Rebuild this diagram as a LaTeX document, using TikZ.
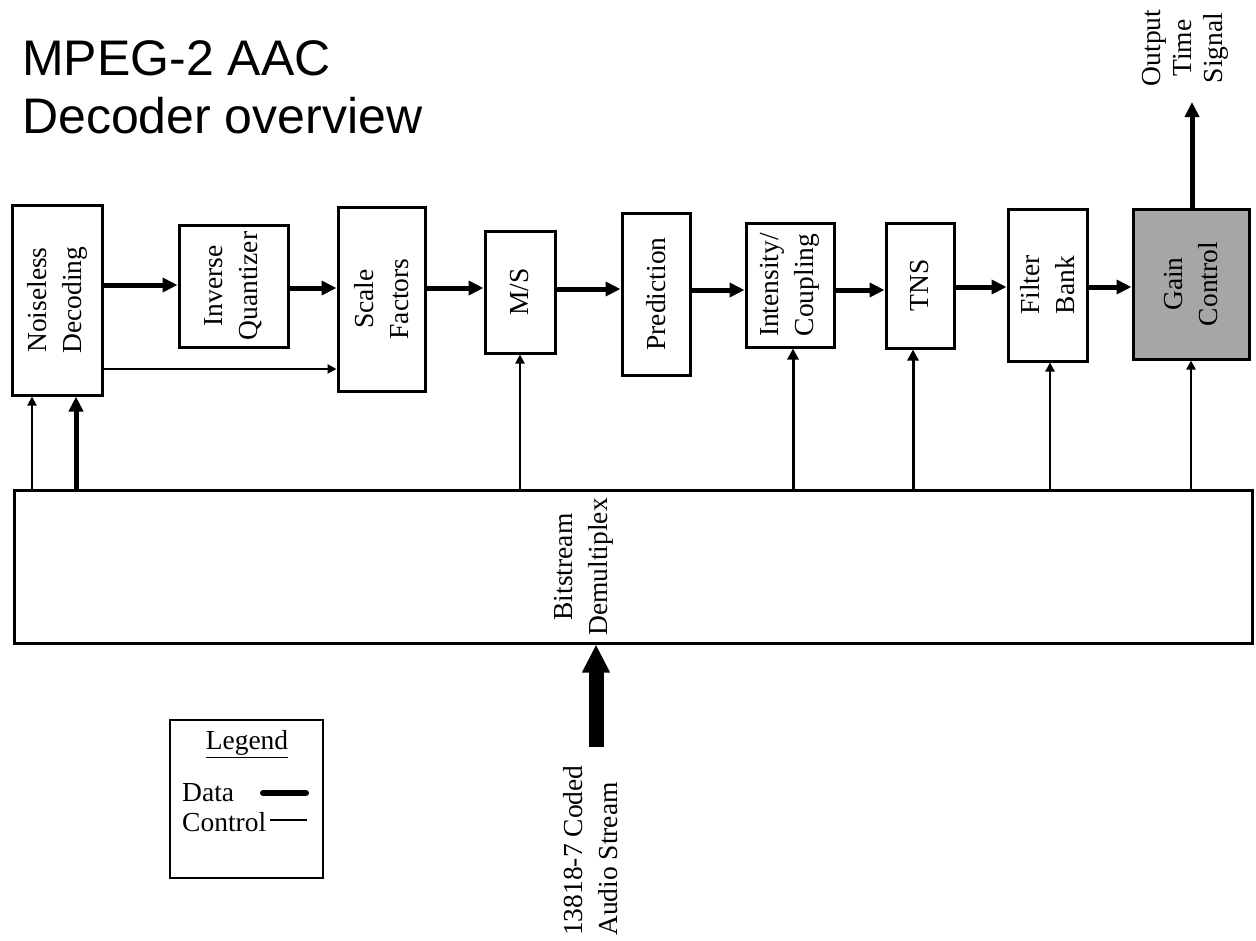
\documentclass[tikz,border=0pt]{standalone}
\usepackage{fontspec}
\setmainfont{Liberation Serif}
\newfontfamily\titlefont{Liberation Sans}
\usetikzlibrary{arrows.meta}
\definecolor{gcgray}{RGB}{166,166,166}
\begin{document}
\begin{tikzpicture}[x=1pt,y=-1pt,
  blk/.style={draw, line width=3pt, inner sep=0pt},
  lbl/.style={rotate=90, align=center, inner sep=0pt, font=\fontsize{27.5}{35}\selectfont},
  data/.style={line width=5pt, -{Triangle[length=15pt,width=14pt]}},
  ctrl/.style={line width=2.2pt, -{Triangle[length=9pt,width=9pt]}},
  mid/.style={line width=3pt, -{Triangle[length=11pt,width=11pt]}},
  ttl/.style={anchor=base west, inner sep=0pt, font=\titlefont\fontsize{50}{58}\selectfont}]
\useasboundingbox (0,0) rectangle (1256,940);

% title
\node[ttl] (t1) at (22,75) {MPEG-2 AAC};
\node[ttl] (t2) at (22,133) {Decoder overview};

% blocks
\node[blk, minimum width=90pt, minimum height=190pt] (nd) at (57,300) {};
\node[lbl] (ndl) at (nd) {Noiseless\\Decoding};
\node[blk, minimum width=109pt, minimum height=122pt] (iq) at (233.5,286) {};
\node[lbl] (iql) at (iq) {Inverse\\Quantizer};
\node[blk, minimum width=87pt, minimum height=184pt] (sf) at (381.5,299) {};
\node[lbl] (sfl) at (sf) {Scale\\Factors};
\node[blk, minimum width=70pt, minimum height=122pt] (ms) at (520,292) {};
\node[lbl] (msl) at (ms) {M/S};
\node[blk, minimum width=68pt, minimum height=162pt] (pr) at (656,294) {};
\node[lbl] (prl) at (pr) {Prediction};
\node[blk, minimum width=88pt, minimum height=124pt] (ic) at (790,285) {};
\node[lbl] (icl) at (ic) {Intensity/\\Coupling};
\node[blk, minimum width=68pt, minimum height=125pt] (tns) at (920,285.5) {};
\node[lbl] (tnsl) at (tns) {TNS};
\node[blk, minimum width=79pt, minimum height=152pt] (fb) at (1047.5,285) {};
\node[lbl] (fbl) at (fb) {Filter\\Bank};
\node[blk, fill=gcgray, minimum width=116pt, minimum height=150pt] (gc) at (1191,284) {};
\node[lbl] (gcl) at (gc) {Gain\\Control};

% bitstream demultiplex
\node[blk, minimum width=1238pt, minimum height=153pt] (bs) at (633,566.5) {};
\node[lbl] (bsl) at (584,567) {Bitstream\\Demultiplex};

% data path
\draw[data] (nd.east |- 0,285) -- (iq.west |- 0,285);
\draw[data] (iq.east |- 0,288) -- (sf.west |- 0,288);
\draw[data] (sf.east |- 0,288) -- (ms.west |- 0,288);
\draw[data] (ms.east |- 0,289) -- (pr.west |- 0,289);
\draw[data] (pr.east |- 0,290) -- (ic.west |- 0,290);
\draw[data] (ic.east |- 0,290) -- (tns.west |- 0,290);
\draw[data] (tns.east |- 0,287) -- (fb.west |- 0,287);
\draw[data] (fb.east |- 0,287) -- (gc.west |- 0,287);
\coordinate (out) at (1192,102);
\draw[data] (gc.north -| out) -- (out);
\node[lbl, font=\fontsize{27.5}{31}\selectfont] (outl) at (1185,48) {Output\\Time\\Signal};

% control paths
\draw[ctrl] (nd.east |- 0,369) -- (sf.west |- 0,369);
\draw[ctrl] (bs.north -| 32,0) -- (nd.south -| 32,0);
\draw[data] (bs.north -| 76,0) -- (nd.south -| 76,0);
\draw[ctrl] (bs.north -| ms.south) -- (ms.south);
\draw[mid] (bs.north -| 793,0) -- (ic.south -| 793,0);
\draw[mid] (bs.north -| 913,0) -- (tns.south -| 913,0);
\draw[ctrl] (bs.north -| 1050,0) -- (fb.south -| 1050,0);
\draw[ctrl] (bs.north -| gc.south) -- (gc.south);

% input
\coordinate (in) at (596,747);
\draw[line width=15pt, -{Triangle[length=28pt,width=26pt]}] (in) -- (bs.south -| in);
\node[lbl, align=left, anchor=west] (inl) at (591,936) {13818-7 Coded\\Audio Stream};

% legend
\node[draw, line width=2.5pt, minimum width=153pt, minimum height=158pt, inner sep=0pt] (leg) at (246.5,799) {};
\node[inner sep=0pt, font=\fontsize{27.5}{33}\selectfont] (legt) at (247,744) {\underline{Legend}};
\node[anchor=west, inner sep=0pt, font=\fontsize{27.5}{33}\selectfont] (ldata) at (182,793) {Data};
\node[anchor=west, inner sep=0pt, font=\fontsize{27.5}{33}\selectfont] (lctrl) at (182,822) {Control};
\coordinate (d1) at (263,793);
\coordinate (d2) at (306,793);
\coordinate (c1) at (270,820);
\coordinate (c2) at (307,820);
\draw[line width=6pt, line cap=round] (d1) -- (d2);
\draw[line width=2pt] (c1) -- (c2);
\end{tikzpicture}
\end{document}
